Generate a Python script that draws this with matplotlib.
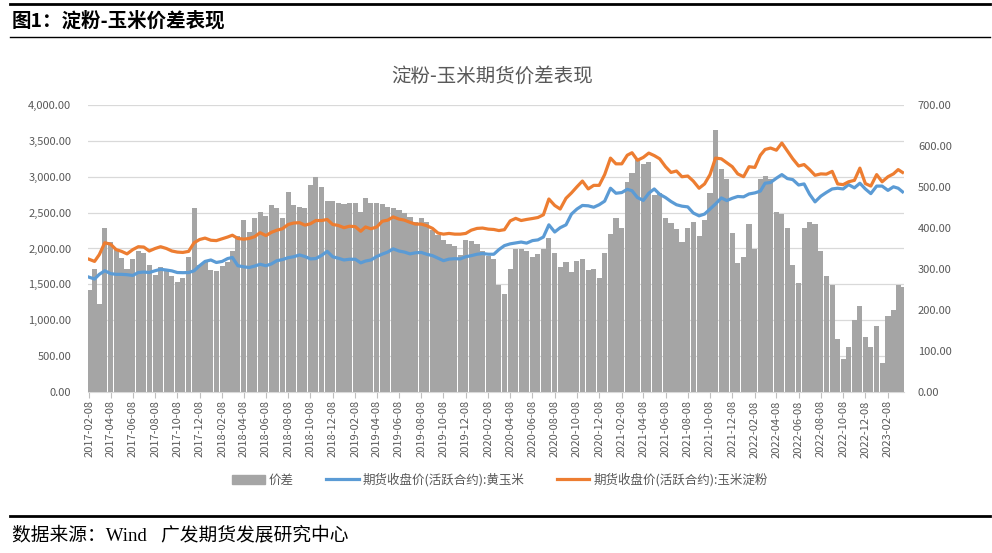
import matplotlib
matplotlib.use('Agg')
import matplotlib.pyplot as plt
import matplotlib.dates as mdates
import matplotlib.ticker as ticker
from matplotlib.lines import Line2D
from matplotlib.patches import Patch
import pandas as pd

plt.rcParams['font.family'] = ['Noto Sans CJK SC', 'DejaVu Sans']

# semi-monthly readings (8th / 23rd), last one 2023-03-20
months = pd.period_range('2017-02', '2023-03', freq='M')
dates = [pd.Timestamp(p.year, p.month, d) for p in months for d in (8, 23)]
dates[-1] = pd.Timestamp('2023-03-20')

# 期货收盘价(活跃合约):玉米淀粉
starch = [
    1850, 1820, 1915, 2080, 2060, 1985, 1960, 1925, 1985, 2025, 2020, 1965,
    2000, 2025, 2000, 1965, 1950, 1945, 1960, 2080, 2125, 2145,
    2115, 2110, 2135, 2160, 2185, 2140, 2130, 2140, 2165, 2220, 2180, 2225,
    2255, 2275, 2335, 2355, 2360, 2325, 2345, 2390, 2390, 2405, 2335, 2322,
    2290, 2310, 2305, 2240, 2300, 2275, 2300, 2380, 2395, 2440, 2410, 2395,
    2365, 2340, 2340, 2318, 2280, 2215, 2200, 2210, 2200, 2200, 2210, 2255,
    2280, 2285, 2270, 2265, 2250, 2262, 2385, 2420, 2390, 2405, 2418, 2432,
    2470, 2690, 2600, 2550, 2700, 2775, 2860, 2940, 2830, 2880, 2880, 3030,
    3260, 3180, 3180, 3300, 3335, 3230, 3270, 3330, 3295, 3250, 3140, 3060,
    3080, 3000, 3010, 2940, 2840, 2900, 3030, 3260, 3250, 3195, 3140, 3040,
    3000, 3140, 3130, 3300, 3380, 3400, 3370, 3470, 3360, 3250, 3150, 3170,
    3100, 3020, 3040, 3036, 3075, 2900, 2890, 2930, 2950, 3120, 2905, 2870,
    3030, 2930, 3000, 3040, 3100, 3060,
]

# 期货收盘价(活跃合约):黄玉米
corn = [
    1600, 1575, 1640, 1690, 1650, 1640, 1640, 1635, 1625, 1665, 1672, 1665,
    1690, 1710, 1700, 1688, 1665, 1663, 1665, 1690, 1760, 1820,
    1840, 1805, 1820, 1860, 1875, 1760, 1745, 1735, 1755, 1780, 1760, 1785,
    1830, 1845, 1872, 1885, 1910, 1888, 1855, 1860, 1905, 1960, 1885, 1865,
    1840, 1850, 1850, 1800, 1825, 1840, 1888, 1922, 1950, 1995, 1965, 1950,
    1925, 1940, 1945, 1920, 1900, 1865, 1830, 1852, 1858, 1855, 1885, 1900,
    1920, 1930, 1920, 1920, 1985, 2040, 2065, 2078, 2090, 2075, 2110, 2120,
    2160, 2330, 2230, 2290, 2330, 2480, 2550, 2600, 2595, 2575, 2610, 2660,
    2840, 2770, 2780, 2825, 2805, 2710, 2670, 2770, 2830, 2755, 2710, 2655,
    2610, 2590, 2580, 2495, 2455, 2480, 2550, 2620, 2705, 2668, 2700, 2725,
    2720, 2760, 2775, 2800, 2910, 2920, 2980, 3030, 2975, 2960, 2885, 2900,
    2757, 2650, 2730, 2781, 2830, 2840, 2830, 2890, 2845, 2910, 2830, 2765,
    2870, 2870, 2810, 2860, 2840, 2790,
]

# 价差 (right axis)
spread = [
    250, 300, 215, 400, 365, 350, 328, 300, 325, 345, 340, 310,
    285, 305, 295, 283, 268, 278, 330, 450, 310, 316,
    298, 295, 308, 318, 345, 380, 420, 390, 425, 440, 430, 455,
    448, 425, 488, 455, 452, 450, 505, 525, 500, 465, 466, 462,
    458, 462, 460, 440, 472, 462, 460, 458, 452, 450, 445, 436,
    428, 415, 425, 414, 395, 383, 370, 360, 356, 335, 370, 368,
    362, 345, 332, 324, 262, 240, 300, 350, 350, 345, 330, 336,
    348, 375, 340, 304, 316, 292, 320, 324, 298, 300, 278, 340,
    385, 425, 400, 512, 535, 565, 555, 560, 480, 485, 425, 412,
    397, 365, 400, 415, 380, 420, 485, 640, 545, 520, 389, 315,
    330, 410, 350, 520, 527, 520, 440, 435, 400, 310, 265, 400,
    414, 410, 345, 283, 262, 130, 80, 110, 175, 210, 135, 110,
    160, 70, 185, 200, 260, 255,
]

tick_dates = pd.date_range('2017-02-08', periods=37, freq=pd.DateOffset(months=2))

grey_txt = '#595959'
fig = plt.figure(figsize=(9.92, 5.53), dpi=100)
pos = [88 / 992, 1 - 392 / 553, (904 - 88) / 992, (392 - 105) / 553]

ax = fig.add_axes(pos)          # left scale + grid
ax2 = ax.twinx()                # bars, right scale
ax3 = ax.twinx()                # lines on left scale
ax.set_zorder(0)
ax2.set_zorder(1)
ax3.set_zorder(2)
for a in (ax2, ax3):
    a.patch.set_visible(False)

ax2.bar(dates, spread, width=14, color='#a5a5a5', linewidth=0)
ax3.plot(dates, corn, color='#5b9bd5', lw=2.3)
ax3.plot(dates, starch, color='#ed7d31', lw=2.3)

ax.set_ylim(0, 4000)
ax3.set_ylim(0, 4000)
ax2.set_ylim(0, 700)
ax.set_yticks(range(0, 4001, 500))
ax2.set_yticks(range(0, 701, 100))
ax3.set_yticks([])
ax.yaxis.set_major_formatter(ticker.FuncFormatter(lambda v, p: f'{v:,.2f}'))
ax2.yaxis.set_major_formatter(ticker.FuncFormatter(lambda v, p: f'{v:,.2f}'))
ax.grid(axis='y', color='#d9d9d9', lw=0.9)
ax.set_axisbelow(True)

ax.set_xlim(pd.Timestamp('2017-02-05'), pd.Timestamp('2023-03-24'))
ax.set_xticks(tick_dates)
ax.xaxis.set_major_formatter(mdates.DateFormatter('%Y-%m-%d'))
ax.tick_params(axis='x', rotation=90, labelsize=8, colors=grey_txt, length=4,
               width=0.8, color='#bfbfbf', pad=2)
ax.tick_params(axis='y', length=0, labelsize=8, colors=grey_txt, pad=12)
ax2.tick_params(axis='y', length=0, labelsize=8, colors=grey_txt, pad=10)

for a in (ax, ax2, ax3):
    for s in a.spines.values():
        s.set_visible(False)
ax.spines['bottom'].set_visible(True)
ax.spines['bottom'].set_color('#d9d9d9')

fig.text(0.496, 1 - 76 / 553, '淀粉-玉米期货价差表现', ha='center', va='center',
         fontsize=14, color=grey_txt)

handles = [Patch(color='#a5a5a5'),
           Line2D([], [], color='#5b9bd5', lw=2.3),
           Line2D([], [], color='#ed7d31', lw=2.3)]
labels = ['价差', '期货收盘价(活跃合约):黄玉米', '期货收盘价(活跃合约):玉米淀粉']
leg = fig.legend(handles, labels, loc='center', bbox_to_anchor=(0.504, 1 - 480 / 553),
                 ncol=3, frameon=False, fontsize=9, handlelength=2.6,
                 columnspacing=2.6, handletextpad=0.3)
for t in leg.get_texts():
    t.set_color(grey_txt)

# report frame: rules, caption, source
fig.add_artist(Line2D([10 / 992, 990 / 992], [1 - 4 / 553] * 2, color='black', lw=2,
                      transform=fig.transFigure))
fig.add_artist(Line2D([10 / 992, 990 / 992], [1 - 37 / 553] * 2, color='black', lw=1,
                      transform=fig.transFigure))
fig.add_artist(Line2D([10 / 992, 990 / 992], [1 - 516 / 553] * 2, color='black', lw=2,
                      transform=fig.transFigure))
fig.text(12 / 992, 1 - 21 / 553, '图1：淀粉-玉米价差表现', ha='left', va='center',
         fontsize=14, fontweight='bold', color='black')
fig.text(12 / 992, 1 - 535 / 553, '数据来源：Wind   广发期货发展研究中心', ha='left',
         va='center', fontsize=13.5, color='black',
         family=['Liberation Serif', 'Noto Sans CJK SC'])

fig.savefig('out.png', dpi=100)
